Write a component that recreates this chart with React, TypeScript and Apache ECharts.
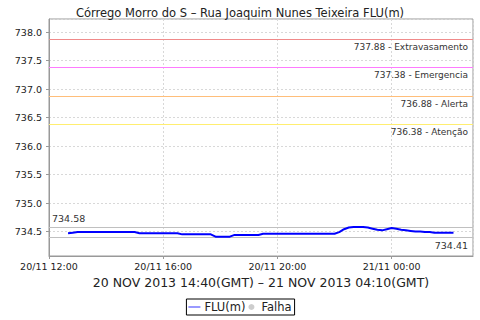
import React, { useEffect, useRef } from "react";
import * as echarts from "echarts";

const chartTitle = "Córrego Morro do S – Rua Joaquim Nunes Teixeira FLU(m)";
const periodLabel = "20 NOV 2013 14:40(GMT) – 21 NOV 2013 04:10(GMT)";
const seriesName = "FLU(m)";
const failName = "Falha";

// time grid: hours since 20/11 00:00 (local), one reading every 10 minutes
const startHour = 12 + 40 / 60;
const stepHours = 10 / 60;

const fluValues = [
  734.47, 734.48,
  734.49, 734.49, 734.49, 734.49, 734.49, 734.49, 734.49, 734.49, 734.49, 734.49, 734.49, 734.49, 734.49,
  734.47, 734.47, 734.47, 734.47, 734.47, 734.47, 734.47, 734.47, 734.47,
  734.45, 734.45, 734.45, 734.45, 734.45, 734.45, 734.45,
  734.41, 734.41, 734.41, 734.41,
  734.44, 734.44, 734.44, 734.44, 734.44, 734.44,
  734.46, 734.46, 734.46, 734.46, 734.46, 734.46, 734.46, 734.46, 734.46, 734.46, 734.46, 734.46, 734.46, 734.46, 734.46, 734.46,
  734.49, 734.54, 734.57, 734.58, 734.58, 734.58, 734.57, 734.55, 734.53, 734.52,
  734.54, 734.56, 734.55, 734.53, 734.52, 734.51, 734.50, 734.50, 734.49, 734.49,
  734.48, 734.48, 734.48, 734.48, 734.48,
];

const thresholdValues = [737.88, 737.38, 736.88, 736.38];
const thresholdNames = ["Extravasamento", "Emergencia", "Alerta", "Atenção"];
const maxLabelValue = 734.58;
const minLabelValue = 734.41;

const xMin = 12;
const xMax = 26.85;
const xInterval = 4;
const yMin = 734.07;
const yMax = 738.23;

// styles
const thresholdColors = ["#F08A8A", "#FF7AFF", "#FFBE7A", "#FFEE70"];
const rangeColor = "#c0c0c0";
const font = "DejaVu Sans";

const pad = (n: number) => (n < 10 ? "0" + n : "" + n);
const fmtHour = (h: number) => {
  const day = 20 + Math.floor(h / 24);
  const hh = Math.floor(h % 24);
  const mm = Math.round((h - Math.floor(h)) * 60);
  return `${day}/11 ${pad(hh)}:${pad(mm)}`;
};

export default function App() {
  const ref = useRef<HTMLDivElement>(null);
  useEffect(() => {
    if (!ref.current) return;
    const chart = echarts.init(ref.current, undefined, { renderer: "svg" });
    const data = fluValues.map((v, i) => [startHour + i * stepHours, v]);

    chart.setOption({
      animation: false,
      backgroundColor: "#ffffff",
      title: {
        text: chartTitle,
        left: "center",
        top: 2,
        textStyle: { fontSize: 11.5, fontWeight: "normal", fontFamily: font, color: "#222" },
      },
      grid: {
        left: 49,
        right: 7,
        top: 19,
        bottom: 64,
        show: true,
        borderColor: "#999",
        borderWidth: 1,
        backgroundColor: "#fff",
      },
      legend: {
        top: 299,
        left: "center",
        selectedMode: false,
        borderColor: "#000",
        borderWidth: 1,
        padding: [2, 3, 2, 2],
        itemGap: 3,
        itemWidth: 12,
        itemHeight: 6,
        textStyle: { fontSize: 11.5, fontFamily: font, color: "#222", padding: [0, 0, 0, -1] },
        data: [
          { name: seriesName, icon: "path://M0,2.6 L12,2.6 L12,3.4 L0,3.4 Z" },
          { name: failName, icon: "circle" },
        ],
      },
      xAxis: {
        type: "value",
        min: xMin,
        max: xMax,
        interval: xInterval,
        name: periodLabel,
        nameLocation: "middle",
        nameGap: 17,
        nameTextStyle: { fontSize: 12.5, fontFamily: font, color: "#222" },
        axisLine: { show: true, lineStyle: { color: "#999" } },
        axisTick: { show: true, length: 3, lineStyle: { color: "#999" } },
        axisLabel: {
          formatter: (v: number) => fmtHour(v),
          fontSize: 9.5,
          fontFamily: font,
          color: "#222",
          margin: 5,
          showMaxLabel: false,
        },
        splitLine: { show: true, lineStyle: { color: "#d8d8d8", type: [2, 2] } },
      },
      yAxis: {
        type: "value",
        min: yMin,
        max: yMax,
        splitNumber: 8,
        axisLine: { show: true, lineStyle: { color: "#999" } },
        axisTick: { show: true, length: 3, lineStyle: { color: "#999" } },
        axisLabel: {
          formatter: (v: number) => v.toFixed(1),
          fontSize: 9.5,
          fontFamily: font,
          color: "#222",
          margin: 7,
          showMinLabel: false,
          showMaxLabel: false,
        },
        splitLine: { show: true, lineStyle: { color: "#d8d8d8", type: [2, 2] } },
      },
      series: [
        {
          name: seriesName,
          type: "line",
          data,
          symbol: "none",
          color: "#0000ff",
          lineStyle: { color: "#0000ff", width: 2 },
          z: 5,
        },
        {
          name: failName,
          type: "scatter",
          data: [],
          color: "#c0c0c0",
          itemStyle: { color: "#c0c0c0" },
        },
      ],
    });

    // reference lines, positioned through the chart's own scales, snapped to crisp pixels
    const toPx = (x: number, y: number) =>
      chart.convertToPixel({ gridIndex: 0 }, [x, y]) as number[];
    const crisp = (y: number) => Math.round(y) + 0.5;
    const graphics: any[] = [];
    const addLine = (v: number, color: string) => {
      const [x1, y] = toPx(xMin, v);
      const [x2] = toPx(xMax, v);
      const cy = crisp(y);
      graphics.push({
        type: "line",
        silent: true,
        z: 3,
        shape: { x1, y1: cy, x2, y2: cy },
        style: { stroke: color, lineWidth: 1 },
      });
      return { x1, x2, cy };
    };
    thresholdValues.forEach((v, i) => {
      const { x2, cy } = addLine(v, thresholdColors[i]);
      graphics.push({
        type: "text",
        silent: true,
        z: 4,
        x: x2 - 5,
        y: cy + 3,
        style: {
          text: `${v.toFixed(2)} - ${thresholdNames[i]}`,
          fontSize: 9,
          fontFamily: font,
          fill: "#333",
          align: "right",
          verticalAlign: "top",
        },
      });
    });
    {
      const { x1, cy } = addLine(maxLabelValue, rangeColor);
      graphics.push({
        type: "text",
        silent: true,
        z: 4,
        x: x1 + 3,
        y: cy - 4,
        style: {
          text: maxLabelValue.toFixed(2),
          fontSize: 9.5,
          fontFamily: font,
          fill: "#333",
          align: "left",
          verticalAlign: "bottom",
        },
      });
    }
    {
      const { x2, cy } = addLine(minLabelValue, rangeColor);
      graphics.push({
        type: "text",
        silent: true,
        z: 4,
        x: x2 - 5,
        y: cy + 2.5,
        style: {
          text: minLabelValue.toFixed(2),
          fontSize: 9.5,
          fontFamily: font,
          fill: "#333",
          align: "right",
          verticalAlign: "top",
        },
      });
    }
    chart.setOption({ graphic: graphics });

    return () => chart.dispose();
  }, []);
  return (
    <div
      ref={ref}
      style={{ position: "fixed", left: 0, top: 0, width: 480, height: 320 }}
    />
  );
}
